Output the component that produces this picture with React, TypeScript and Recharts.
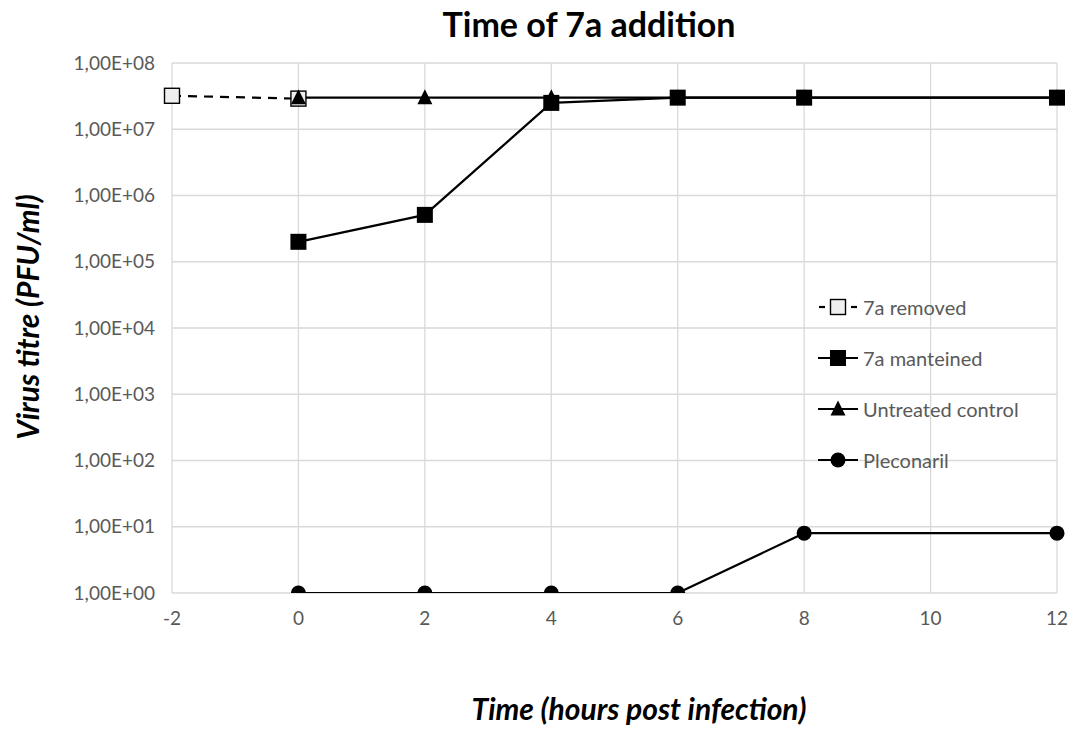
import { LineChart, Line, XAxis, YAxis, CartesianGrid } from 'recharts';

// hours post infection (category axis, evenly spaced)
const hours = ['-2', '0', '2', '4', '6', '8', '10', '12'];

// virus titre, PFU/ml
const removed = [3.2e7, 2.9e7, null, null, null, null, null, null];
const maintained = [null, 2.0e5, 5.1e5, 2.5e7, 3.0e7, 3.0e7, null, 3.0e7];
const untreated = [null, 3.0e7, 3.0e7, 3.0e7, 3.0e7, 3.0e7, null, 3.0e7];
const pleconaril = [null, 1, 1, 1, 1, 8, null, 8];

const yTicks = [1, 1e1, 1e2, 1e3, 1e4, 1e5, 1e6, 1e7, 1e8];

const data = hours.map((h, i) => ({
  h,
  removed: removed[i],
  maintained: maintained[i],
  untreated: untreated[i],
  pleconaril: pleconaril[i],
}));

const FONT = 'Lato, "Open Sans", sans-serif';
const GREY = '#595959';

type Shape = 'openSquare' | 'square' | 'triangle' | 'circle';

function Marker({ shape, cx, cy }: { shape: Shape; cx: number; cy: number }) {
  if (shape === 'openSquare')
    return <rect x={cx - 7.5} y={cy - 7.5} width={15} height={15} fill="#efefef" stroke="#000" strokeWidth={1.4} />;
  if (shape === 'square')
    return <rect x={cx - 8} y={cy - 8} width={16} height={16} fill="#000" />;
  if (shape === 'triangle')
    return <path d={`M${cx},${cy - 8.5} L${cx + 7.5},${cy + 6.5} L${cx - 7.5},${cy + 6.5} Z`} fill="#000" />;
  return <circle cx={cx} cy={cy} r={7.5} fill="#000" />;
}

const dotFor = (shape: Shape) => (props: any) => {
  const { cx, cy, value, index } = props;
  if (value == null || cx == null || cy == null) return <g key={index} />;
  return <Marker key={index} shape={shape} cx={cx} cy={cy} />;
};

const legendItems: { label: string; shape: Shape; dashed?: boolean }[] = [
  { label: '7a removed', shape: 'openSquare', dashed: true },
  { label: '7a manteined', shape: 'square' },
  { label: 'Untreated control', shape: 'triangle' },
  { label: 'Pleconaril', shape: 'circle' },
];

function LegendBox() {
  return (
    <div style={{ position: 'absolute', left: 818, top: 281, fontFamily: FONT, fontSize: 20, color: GREY }}>
      {legendItems.map((it) => (
        <div key={it.label} style={{ display: 'flex', alignItems: 'center', height: 51 }}>
          <svg width={42} height={20} style={{ marginRight: 3 }}>
            {it.dashed ? (
              <>
                <line x1={1} y1={10} x2={7} y2={10} stroke="#000" strokeWidth={2.2} />
                <line x1={33} y1={10} x2={39} y2={10} stroke="#000" strokeWidth={2.2} />
              </>
            ) : (
              <line x1={0} y1={10} x2={40} y2={10} stroke="#000" strokeWidth={2.2} />
            )}
            <Marker shape={it.shape} cx={20} cy={10} />
          </svg>
          <span>{it.label}</span>
        </div>
      ))}
    </div>
  );
}

export default function App() {
  return (
    <div style={{ position: 'absolute', left: 0, top: 0, width: 1075, height: 731, background: '#fff' }}>
      <LineChart width={1075} height={731} data={data} margin={{ top: 63, right: 18, bottom: 108, left: 72 }}>
        <CartesianGrid stroke="#d9d9d9" strokeWidth={1.3} vertical horizontal />
        <XAxis
          dataKey="h"
          type="category"
          axisLine={false}
          tickLine={false}
          height={30}
          tick={{ fill: GREY, fontSize: 19, fontFamily: FONT }}
          tickMargin={13}
          interval={0}
        />
        <YAxis
          scale="log"
          domain={[1, 1e8]}
          ticks={yTicks}
          allowDataOverflow
          axisLine={false}
          tickLine={false}
          width={100}
          tickMargin={11}
          tick={{ fill: GREY, fontSize: 19, fontFamily: FONT }}
          tickFormatter={(v: number) => `1,00E+${String(Math.round(Math.log10(v))).padStart(2, '0')}`}
        />
        <Line
          dataKey="removed"
          stroke="#000"
          strokeWidth={2.2}
          strokeDasharray="9 7"
          dot={dotFor('openSquare')}
          activeDot={false}
          isAnimationActive={false}
        />
        <Line
          dataKey="untreated"
          stroke="#000"
          strokeWidth={2.2}
          connectNulls
          dot={dotFor('triangle')}
          activeDot={false}
          isAnimationActive={false}
        />
        <Line
          dataKey="maintained"
          stroke="#000"
          strokeWidth={2.2}
          connectNulls
          dot={dotFor('square')}
          activeDot={false}
          isAnimationActive={false}
        />
        <Line
          dataKey="pleconaril"
          stroke="#000"
          strokeWidth={2.2}
          connectNulls
          dot={dotFor('circle')}
          activeDot={false}
          isAnimationActive={false}
        />
      </LineChart>

      <div
        style={{
          position: 'absolute', left: 389, width: 400, top: 3, textAlign: 'center',
          fontFamily: FONT, fontWeight: 700, fontSize: 34, color: '#000',
        }}
      >
        Time of 7a addition
      </div>
      <div style={{ position: 'absolute', left: 27, top: 318, width: 0, height: 0 }}>
        <div
          style={{
            position: 'absolute', left: -200, top: -19, width: 400, textAlign: 'center',
            transform: 'rotate(-90deg)', fontFamily: FONT, fontWeight: 700, fontStyle: 'italic',
            fontSize: 30, color: '#000', whiteSpace: 'nowrap',
          }}
        >
          Virus titre (PFU/ml)
        </div>
      </div>
      <div
        style={{
          position: 'absolute', left: 439, width: 400, top: 690, textAlign: 'center',
          fontFamily: FONT, fontWeight: 700, fontStyle: 'italic', fontSize: 30, color: '#000',
        }}
      >
        Time (hours post infection)
      </div>
      <LegendBox />
    </div>
  );
}
